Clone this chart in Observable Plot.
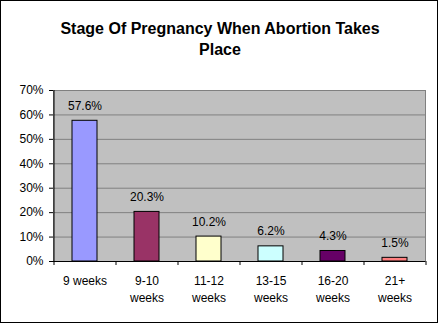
<!DOCTYPE html>
<html><head><meta charset="utf-8">
<script src="https://cdn.jsdelivr.net/npm/d3@7"></script>
<script src="https://cdn.jsdelivr.net/npm/@observablehq/plot@0.6"></script>
<style>
body{margin:0;background:#fff;}
#wrap{position:relative;width:439px;height:323px;}
#border{position:absolute;left:0;top:0;width:438px;height:323px;box-sizing:border-box;border:1px solid #000;pointer-events:none;}
svg{font-family:Arial,"Liberation Sans",sans-serif;}
</style></head>
<body><div id="wrap"><div id="border"></div></div>
<script>
const categories = ["9 weeks", "9-10\nweeks", "11-12\nweeks", "13-15\nweeks", "16-20\nweeks", "21+\nweeks"];
const values = [57.6, 20.3, 10.2, 6.2, 4.3, 1.5];
const colors = ["#9999FF", "#993366", "#FFFFCC", "#CCFFFF", "#660066", "#FF8080"];
const yTicks = [0, 10, 20, 30, 40, 50, 60, 70];
const title = "Stage Of Pregnancy When Abortion Takes\nPlace";

const data = categories.map((c, i) => ({cat: c, val: values[i], color: colors[i]}));
const W = 439, H = 323, mL = 53, mR = 14, mT = 90, mB = 62;
const step = (W - mL - mR) / categories.length;

const chart = Plot.plot({
  width: W, height: H,
  marginLeft: mL, marginRight: mR, marginTop: mT, marginBottom: mB,
  style: {fontFamily: "Arial, 'Liberation Sans', sans-serif", fontSize: "12px", color: "#000", background: "transparent"},
  x: {domain: categories, paddingInner: 0.6, paddingOuter: 0.3, axis: null},
  y: {domain: [0, 70], ticks: yTicks, axis: null, label: null},
  marks: [
    Plot.frame({fill: "#c0c0c0", stroke: "#808080"}),
    Plot.gridY(yTicks, {stroke: "#808080", strokeOpacity: 1}),
    Plot.axisY(yTicks, {tickFormat: d => d + "%", tickSize: 4, tickPadding: 6, fontSize: 12, stroke: "#000", label: null}),
    Plot.barY(data, {x: "cat", y: "val", fill: "color", stroke: "#000", strokeWidth: 1}),
    Plot.text(data, {x: "cat", y: "val", text: d => d.val.toFixed(1) + "%", dy: -11, lineAnchor: "bottom", fontSize: 12, fill: "#000"}),
    Plot.ruleY([0], {stroke: "#000"}),
    Plot.ruleX([categories[0]], {y1: 0, y2: 70, dx: -step / 2, stroke: "#000"}),
    Plot.ruleX(categories, {y1: 0, y2: 0, dx: -step / 2, insetBottom: -4, stroke: "#000"}),
    Plot.ruleX([categories[categories.length - 1]], {y1: 0, y2: 0, dx: step / 2, insetBottom: -4, stroke: "#000"}),
    Plot.text(data, {x: "cat", text: "cat", frameAnchor: "bottom", dy: 12, lineAnchor: "top", lineHeight: 1.4, fontSize: 12, fill: "#000"}),
    Plot.text([title], {text: d => d, frameAnchor: "top", dx: -19.5, dy: -71.4, lineAnchor: "top", lineHeight: 1.31, fontSize: 16, fontWeight: "bold", fill: "#000"})
  ]
});
document.getElementById("wrap").prepend(chart);
</script></body></html>
